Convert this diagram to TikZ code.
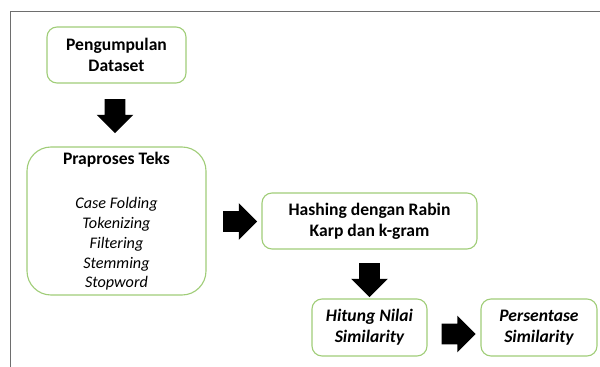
\documentclass[tikz,border=0pt]{standalone}
\usepackage{fontspec}
\setmainfont{Carlito}
\usetikzlibrary{shapes.arrows}
\definecolor{boxgreen}{RGB}{160,205,120}
\definecolor{framegray}{RGB}{110,110,110}
\newcommand{\prepitem}[1]{{\fontsize{11.5}{14}\selectfont\mdseries\itshape #1}}
\begin{document}
\begin{tikzpicture}[inner sep=0pt,outer sep=0pt,
stepbox/.style={draw=boxgreen,line width=0.8pt,rectangle,rounded corners=0.25cm,align=center,
  font=\fontsize{12.5}{15}\selectfont\bfseries},
blockarrow/.style={single arrow,fill=black,draw=none,minimum width=0.9cm,minimum height=0.85cm,
  single arrow head extend=0.2cm,inner xsep=0pt,inner ysep=0.25cm}]
\useasboundingbox (0,0) rectangle (15,9.175);
% frame of the page
\draw[framegray,line width=1pt] (0.2625,0) -- (0.2625,8.89) -- (15,8.89);
% boxes
\draw (2.9125,7.8) node[stepbox,minimum width=3.475cm,minimum height=1.4cm] (data) {Pengumpulan\\Dataset};
\draw (2.9125,3.65) node[stepbox,minimum width=4.475cm,minimum height=3.7cm,rounded corners=0.6cm] (prep)
  {Praproses Teks\\[17pt]
   \prepitem{Case Folding}\\[-1pt]\prepitem{Tokenizing}\\[-1pt]\prepitem{Filtering}\\[-1pt]
   \prepitem{Stemming}\\[-1pt]\prepitem{Stopword}};
\draw (9.2375,3.65) node[stepbox,minimum width=5.375cm,minimum height=1.4cm] (hash) {Hashing dengan Rabin\\Karp dan k-gram};
\draw (9.2375,0.9875) node[stepbox,minimum width=2.875cm,minimum height=1.425cm,font=\fontsize{12.5}{15}\selectfont\bfseries\itshape] (sim) {Hitung Nilai\\Similarity};
\draw (13.475,0.9875) node[stepbox,minimum width=2.9cm,minimum height=1.425cm,font=\fontsize{12.5}{15}\selectfont\bfseries\itshape] (pct) {Persentase\\Similarity};
% block arrows
\draw (2.875,6.4) node[blockarrow,rotate=-90] (a1) {};
\draw (5.875,3.6375) node[blockarrow] (a2) {};
\draw (9.2375,2.3) node[blockarrow,rotate=-90] (a3) {};
\draw (11.3375,0.825) node[blockarrow] (a4) {};
\end{tikzpicture}
\end{document}
